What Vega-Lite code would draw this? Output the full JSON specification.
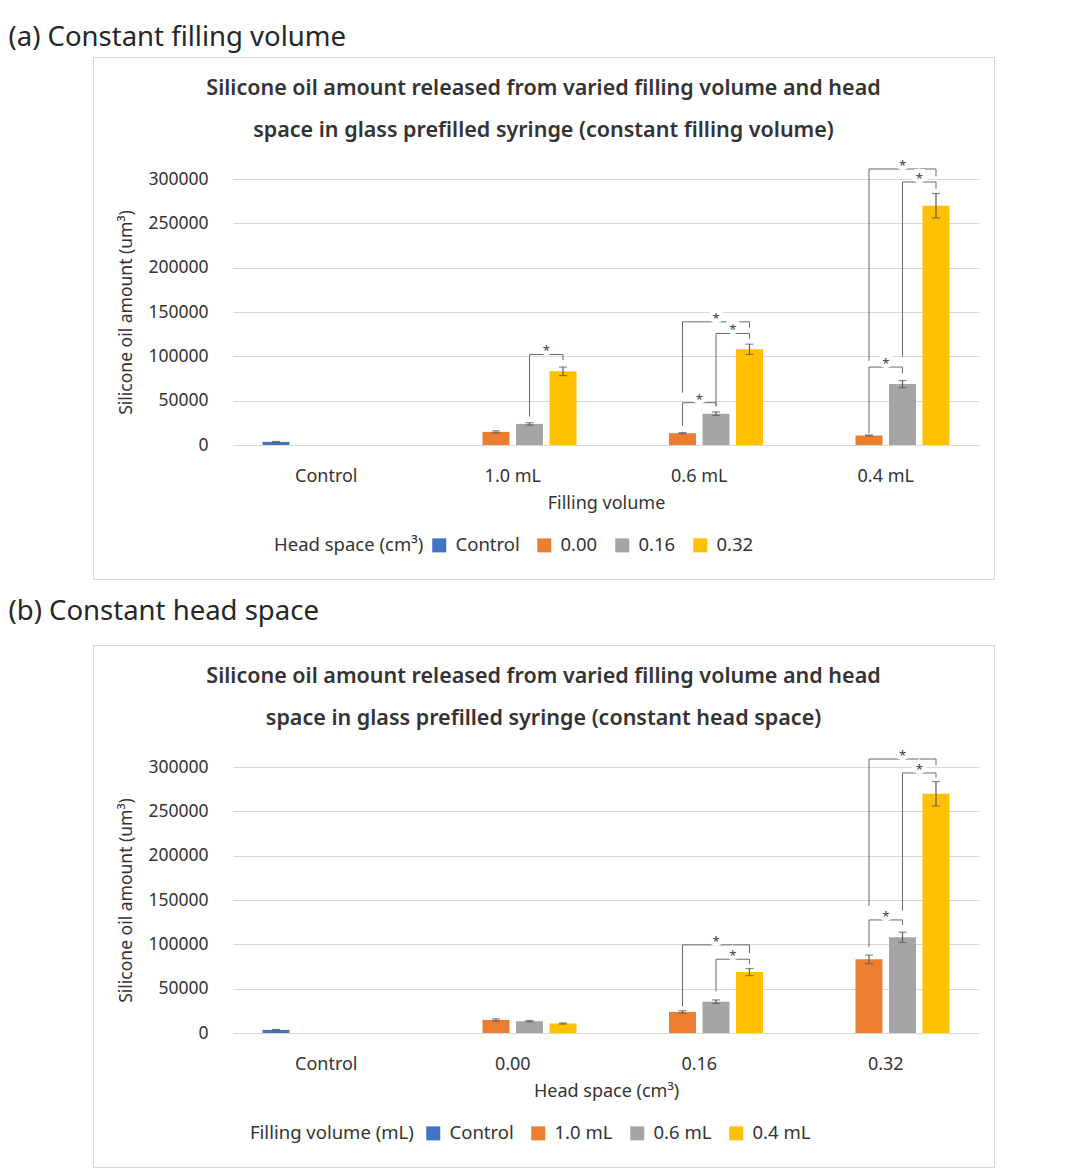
{
  "$schema": "https://vega.github.io/schema/vega-lite/v6.json",
  "padding": {"left": 8, "top": 24, "right": 0, "bottom": 0},
  "spacing": 18,
  "resolve": {"scale": {"color": "independent", "xOffset": "independent", "x": "independent", "y": "independent"}, "legend": {"color": "independent"}},
  "config": {
    "font": "Noto Sans",
    "view": {"stroke": "#D9D9D9", "strokeWidth": 1, "fill": "white"}
  },
  "datasets": {
    "bars": [
      {"fv": "Control", "hs": "Control", "v": 3500, "lo": 3000, "hi": 4000},
      {"fv": "1.0 mL", "hs": "0.00", "v": 14800, "lo": 13600, "hi": 16000},
      {"fv": "0.6 mL", "hs": "0.00", "v": 13300, "lo": 12600, "hi": 14000},
      {"fv": "0.4 mL", "hs": "0.00", "v": 10700, "lo": 10100, "hi": 11300},
      {"fv": "1.0 mL", "hs": "0.16", "v": 23800, "lo": 22400, "hi": 25200},
      {"fv": "0.6 mL", "hs": "0.16", "v": 35300, "lo": 33300, "hi": 37300},
      {"fv": "0.4 mL", "hs": "0.16", "v": 68700, "lo": 64700, "hi": 72700},
      {"fv": "1.0 mL", "hs": "0.32", "v": 83100, "lo": 78300, "hi": 87900},
      {"fv": "0.6 mL", "hs": "0.32", "v": 107900, "lo": 102100, "hi": 113700},
      {"fv": "0.4 mL", "hs": "0.32", "v": 269800, "lo": 256000, "hi": 283600}
    ],
    "brk": [
      {"p": "a", "id": "a1", "fv": "1.0 mL", "hs": "0.16", "y": 32300, "o": 0},
      {"p": "a", "id": "a1", "fv": "1.0 mL", "hs": "0.16", "y": 102100, "o": 1},
      {"p": "a", "id": "a1", "fv": "1.0 mL", "hs": "0.32", "y": 102100, "o": 2},
      {"p": "a", "id": "a1", "fv": "1.0 mL", "hs": "0.32", "y": 95800, "o": 3},
      {"p": "a", "id": "a2", "fv": "0.6 mL", "hs": "0.00", "y": 21800, "o": 0},
      {"p": "a", "id": "a2", "fv": "0.6 mL", "hs": "0.00", "y": 47700, "o": 1},
      {"p": "a", "id": "a2", "fv": "0.6 mL", "hs": "0.16", "y": 47700, "o": 2},
      {"p": "a", "id": "a2", "fv": "0.6 mL", "hs": "0.16", "y": 43900, "o": 3},
      {"p": "a", "id": "a3", "fv": "0.6 mL", "hs": "0.16", "y": 43600, "o": 0},
      {"p": "a", "id": "a3", "fv": "0.6 mL", "hs": "0.16", "y": 125800, "o": 1},
      {"p": "a", "id": "a3", "fv": "0.6 mL", "hs": "0.32", "y": 125800, "o": 2},
      {"p": "a", "id": "a3", "fv": "0.6 mL", "hs": "0.32", "y": 119800, "o": 3},
      {"p": "a", "id": "a4", "fv": "0.6 mL", "hs": "0.00", "y": 59000, "o": 0},
      {"p": "a", "id": "a4", "fv": "0.6 mL", "hs": "0.00", "y": 138900, "o": 1},
      {"p": "a", "id": "a4", "fv": "0.6 mL", "hs": "0.32", "y": 138900, "o": 2},
      {"p": "a", "id": "a4", "fv": "0.6 mL", "hs": "0.32", "y": 132200, "o": 3},
      {"p": "a", "id": "a5", "fv": "0.4 mL", "hs": "0.00", "y": 13100, "o": 0},
      {"p": "a", "id": "a5", "fv": "0.4 mL", "hs": "0.00", "y": 87900, "o": 1},
      {"p": "a", "id": "a5", "fv": "0.4 mL", "hs": "0.16", "y": 87900, "o": 2},
      {"p": "a", "id": "a5", "fv": "0.4 mL", "hs": "0.16", "y": 80700, "o": 3},
      {"p": "a", "id": "a6", "fv": "0.4 mL", "hs": "0.16", "y": 99500, "o": 0},
      {"p": "a", "id": "a6", "fv": "0.4 mL", "hs": "0.16", "y": 296600, "o": 1},
      {"p": "a", "id": "a6", "fv": "0.4 mL", "hs": "0.32", "y": 296600, "o": 2},
      {"p": "a", "id": "a6", "fv": "0.4 mL", "hs": "0.32", "y": 289100, "o": 3},
      {"p": "a", "id": "a7", "fv": "0.4 mL", "hs": "0.00", "y": 95000, "o": 0},
      {"p": "a", "id": "a7", "fv": "0.4 mL", "hs": "0.00", "y": 311300, "o": 1},
      {"p": "a", "id": "a7", "fv": "0.4 mL", "hs": "0.32", "y": 311300, "o": 2},
      {"p": "a", "id": "a7", "fv": "0.4 mL", "hs": "0.32", "y": 303000, "o": 3},
      {"p": "b", "id": "b1", "hs": "0.16", "fv": "1.0 mL", "y": 30000, "o": 0},
      {"p": "b", "id": "b1", "hs": "0.16", "fv": "1.0 mL", "y": 99400, "o": 1},
      {"p": "b", "id": "b1", "hs": "0.16", "fv": "0.4 mL", "y": 99400, "o": 2},
      {"p": "b", "id": "b1", "hs": "0.16", "fv": "0.4 mL", "y": 90000, "o": 3},
      {"p": "b", "id": "b2", "hs": "0.16", "fv": "0.6 mL", "y": 46900, "o": 0},
      {"p": "b", "id": "b2", "hs": "0.16", "fv": "0.6 mL", "y": 83200, "o": 1},
      {"p": "b", "id": "b2", "hs": "0.16", "fv": "0.4 mL", "y": 83200, "o": 2},
      {"p": "b", "id": "b2", "hs": "0.16", "fv": "0.4 mL", "y": 78000, "o": 3},
      {"p": "b", "id": "b3", "hs": "0.32", "fv": "1.0 mL", "y": 96800, "o": 0},
      {"p": "b", "id": "b3", "hs": "0.32", "fv": "1.0 mL", "y": 127500, "o": 1},
      {"p": "b", "id": "b3", "hs": "0.32", "fv": "0.6 mL", "y": 127500, "o": 2},
      {"p": "b", "id": "b3", "hs": "0.32", "fv": "0.6 mL", "y": 121900, "o": 3},
      {"p": "b", "id": "b4", "hs": "0.32", "fv": "0.6 mL", "y": 138000, "o": 0},
      {"p": "b", "id": "b4", "hs": "0.32", "fv": "0.6 mL", "y": 293300, "o": 1},
      {"p": "b", "id": "b4", "hs": "0.32", "fv": "0.4 mL", "y": 293300, "o": 2},
      {"p": "b", "id": "b4", "hs": "0.32", "fv": "0.4 mL", "y": 288000, "o": 3},
      {"p": "b", "id": "b5", "hs": "0.32", "fv": "1.0 mL", "y": 143200, "o": 0},
      {"p": "b", "id": "b5", "hs": "0.32", "fv": "1.0 mL", "y": 309000, "o": 1},
      {"p": "b", "id": "b5", "hs": "0.32", "fv": "0.4 mL", "y": 309000, "o": 2},
      {"p": "b", "id": "b5", "hs": "0.32", "fv": "0.4 mL", "y": 301900, "o": 3}
    ],
    "stars": [
      {"p": "a", "k": "adj", "fv": "1.0 mL", "hs": "0.16", "y": 102100},
      {"p": "a", "k": "adj", "fv": "0.6 mL", "hs": "0.00", "y": 47700},
      {"p": "a", "k": "adj", "fv": "0.6 mL", "hs": "0.16", "y": 125800},
      {"p": "a", "k": "span", "fv": "0.6 mL", "hs": "0.16", "y": 138900},
      {"p": "a", "k": "adj", "fv": "0.4 mL", "hs": "0.00", "y": 87900},
      {"p": "a", "k": "adj", "fv": "0.4 mL", "hs": "0.16", "y": 296600},
      {"p": "a", "k": "span", "fv": "0.4 mL", "hs": "0.16", "y": 311300},
      {"p": "b", "k": "span", "hs": "0.16", "fv": "0.6 mL", "y": 99400},
      {"p": "b", "k": "adj", "hs": "0.16", "fv": "0.6 mL", "y": 83200},
      {"p": "b", "k": "adj", "hs": "0.32", "fv": "1.0 mL", "y": 127500},
      {"p": "b", "k": "adj", "hs": "0.32", "fv": "0.6 mL", "y": 293300},
      {"p": "b", "k": "span", "hs": "0.32", "fv": "0.6 mL", "y": 309000}
    ]
  },
  "vconcat": [
    {
      "title": {"text": "(a) Constant filling volume", "anchor": "start", "dx": -84, "offset": 5, "fontSize": 27.5, "fontWeight": "normal", "color": "#262626"},
      "vconcat": [
        {
          "width": 901,
          "height": 522,
          "title": {"text": ["Silicone oil amount released from varied filling volume and head", "space in glass prefilled syringe (constant filling volume)"], "offset": -84, "fontSize": 21.5, "fontWeight": 600, "lineHeight": 42, "anchor": "middle", "color": "#333333"},
          "layer": [
            {
              "data": {"name": "bars"},
              "mark": {"type": "bar"},
              "encoding": {
                "x": {"field": "fv", "type": "nominal", "title": "Filling volume", "sort": null,
                  "scale": {"domain": ["Control", "1.0 mL", "0.6 mL", "0.4 mL"], "range": [140, 886], "paddingInner": 0.2815, "paddingOuter": 0.1408},
                  "axis": {"orient": "bottom", "offset": -134, "domain": true, "domainColor": "#D9D9D9", "ticks": false, "tickSize": 0, "labelPadding": 22, "labelFontSize": 18, "labelAngle": 0, "labelColor": "#333333", "titlePadding": 9, "titleFontSize": 18, "titleFontWeight": "normal", "titleColor": "#333333", "grid": false}},
                "xOffset": {"field": "hs", "type": "nominal", "sort": null, "scale": {"domain": ["Control", "0.00", "0.16", "0.32"], "paddingInner": 0.194, "paddingOuter": 0.097}},
                "y": {"field": "v", "type": "quantitative", "title": "Silicone oil amount (um³)",
                  "scale": {"domain": [0, 300000], "range": [388, 122], "nice": false},
                  "axis": {"values": [0, 50000, 100000, 150000, 200000, 250000, 300000], "format": "d", "offset": -140, "domain": false, "ticks": false, "tickSize": 0, "labelPadding": 25, "labelFontSize": 17.5, "labelColor": "#333333", "titleFontSize": 17.5, "titleFontWeight": "normal", "titleColor": "#333333", "titlePadding": 12, "grid": true, "gridColor": "#D9D9D9", "gridWidth": 1}},
                "color": {"field": "hs", "type": "nominal", "title": "Head space (cm³)",
                  "scale": {"domain": ["Control", "0.00", "0.16", "0.32"], "range": ["#4472C4", "#ED7D31", "#A5A5A5", "#FFC000"]},
                  "legend": {"orient": "none", "legendX": 181, "legendY": 479, "direction": "horizontal", "titleOrient": "left", "symbolType": "square", "symbolSize": 196, "symbolStrokeWidth": 0, "labelFontSize": 18.5, "labelColor": "#333333", "titleFontSize": 18.5, "titleFontWeight": "normal", "titleColor": "#333333", "labelOffset": 7, "columnPadding": 15, "titlePadding": 6}}
              }
            },
            {
              "data": {"name": "bars"},
              "mark": {"type": "rule", "color": "#595959", "strokeWidth": 1.2},
              "encoding": {"x": {"field": "fv", "type": "nominal"}, "xOffset": {"field": "hs", "type": "nominal"}, "y": {"field": "lo", "type": "quantitative"}, "y2": {"field": "hi"}}
            },
            {
              "data": {"name": "bars"},
              "mark": {"type": "tick", "color": "#595959", "size": 8, "thickness": 1.2, "orient": "horizontal"},
              "encoding": {"x": {"field": "fv", "type": "nominal"}, "xOffset": {"field": "hs", "type": "nominal"}, "y": {"field": "lo", "type": "quantitative"}}
            },
            {
              "data": {"name": "bars"},
              "mark": {"type": "tick", "color": "#595959", "size": 8, "thickness": 1.2, "orient": "horizontal"},
              "encoding": {"x": {"field": "fv", "type": "nominal"}, "xOffset": {"field": "hs", "type": "nominal"}, "y": {"field": "hi", "type": "quantitative"}}
            },
            {
              "data": {"name": "brk"},
              "transform": [{"filter": "datum.p == 'a'"}],
              "mark": {"type": "line", "color": "#6a6a6a", "strokeWidth": 1},
              "encoding": {"x": {"field": "fv", "type": "nominal"}, "xOffset": {"field": "hs", "type": "nominal"}, "y": {"field": "y", "type": "quantitative"}, "detail": {"field": "id"}, "order": {"field": "o", "type": "quantitative"}}
            },
            {
              "data": {"name": "stars"},
              "transform": [{"filter": "datum.p == 'a' && datum.k == 'adj'"}],
              "mark": {"type": "text", "text": "*", "fontSize": 13, "dx": 16.75, "dy": -3, "fill": "white", "stroke": "white", "strokeWidth": 8},
              "encoding": {"x": {"field": "fv", "type": "nominal"}, "xOffset": {"field": "hs", "type": "nominal"}, "y": {"field": "y", "type": "quantitative"}}
            },
            {
              "data": {"name": "stars"},
              "transform": [{"filter": "datum.p == 'a' && datum.k == 'span'"}],
              "mark": {"type": "text", "text": "*", "fontSize": 13, "dx": 0, "dy": -3, "fill": "white", "stroke": "white", "strokeWidth": 8},
              "encoding": {"x": {"field": "fv", "type": "nominal"}, "xOffset": {"field": "hs", "type": "nominal"}, "y": {"field": "y", "type": "quantitative"}}
            },
            {
              "data": {"name": "stars"},
              "transform": [{"filter": "datum.p == 'a' && datum.k == 'adj'"}],
              "mark": {"type": "text", "text": "*", "fontSize": 13, "dx": 16.75, "dy": -3, "color": "#404040"},
              "encoding": {"x": {"field": "fv", "type": "nominal"}, "xOffset": {"field": "hs", "type": "nominal"}, "y": {"field": "y", "type": "quantitative"}}
            },
            {
              "data": {"name": "stars"},
              "transform": [{"filter": "datum.p == 'a' && datum.k == 'span'"}],
              "mark": {"type": "text", "text": "*", "fontSize": 13, "dx": 0, "dy": -3, "color": "#404040"},
              "encoding": {"x": {"field": "fv", "type": "nominal"}, "xOffset": {"field": "hs", "type": "nominal"}, "y": {"field": "y", "type": "quantitative"}}
            }
          ]
        }
      ]
    },
    {
      "title": {"text": "(b) Constant head space", "anchor": "start", "dx": -84, "offset": 19, "fontSize": 27.5, "fontWeight": "normal", "color": "#262626"},
      "vconcat": [
        {
          "width": 901,
          "height": 522,
          "title": {"text": ["Silicone oil amount released from varied filling volume and head", "space in glass prefilled syringe (constant head space)"], "offset": -84, "fontSize": 21.5, "fontWeight": 600, "lineHeight": 42, "anchor": "middle", "color": "#333333"},
          "layer": [
            {
              "data": {"name": "bars"},
              "mark": {"type": "bar"},
              "encoding": {
                "x": {"field": "hs", "type": "nominal", "title": "Head space (cm³)", "sort": null,
                  "scale": {"domain": ["Control", "0.00", "0.16", "0.32"], "range": [140, 886], "paddingInner": 0.2815, "paddingOuter": 0.1408},
                  "axis": {"orient": "bottom", "offset": -134, "domain": true, "domainColor": "#D9D9D9", "ticks": false, "tickSize": 0, "labelPadding": 22, "labelFontSize": 18, "labelAngle": 0, "labelColor": "#333333", "titlePadding": 9, "titleFontSize": 18, "titleFontWeight": "normal", "titleColor": "#333333", "grid": false}},
                "xOffset": {"field": "fv", "type": "nominal", "sort": null, "scale": {"domain": ["Control", "1.0 mL", "0.6 mL", "0.4 mL"], "paddingInner": 0.194, "paddingOuter": 0.097}},
                "y": {"field": "v", "type": "quantitative", "title": "Silicone oil amount (um³)",
                  "scale": {"domain": [0, 300000], "range": [388, 122], "nice": false},
                  "axis": {"values": [0, 50000, 100000, 150000, 200000, 250000, 300000], "format": "d", "offset": -140, "domain": false, "ticks": false, "tickSize": 0, "labelPadding": 25, "labelFontSize": 17.5, "labelColor": "#333333", "titleFontSize": 17.5, "titleFontWeight": "normal", "titleColor": "#333333", "titlePadding": 12, "grid": true, "gridColor": "#D9D9D9", "gridWidth": 1}},
                "color": {"field": "fv", "type": "nominal", "title": "Filling volume (mL)",
                  "scale": {"domain": ["Control", "1.0 mL", "0.6 mL", "0.4 mL"], "range": ["#4472C4", "#ED7D31", "#A5A5A5", "#FFC000"]},
                  "legend": {"orient": "none", "legendX": 157, "legendY": 479, "direction": "horizontal", "titleOrient": "left", "symbolType": "square", "symbolSize": 196, "symbolStrokeWidth": 0, "labelFontSize": 18.5, "labelColor": "#333333", "titleFontSize": 18.5, "titleFontWeight": "normal", "titleColor": "#333333", "labelOffset": 7, "columnPadding": 15, "titlePadding": 10}}
              }
            },
            {
              "data": {"name": "bars"},
              "mark": {"type": "rule", "color": "#595959", "strokeWidth": 1.2},
              "encoding": {"x": {"field": "hs", "type": "nominal"}, "xOffset": {"field": "fv", "type": "nominal"}, "y": {"field": "lo", "type": "quantitative"}, "y2": {"field": "hi"}}
            },
            {
              "data": {"name": "bars"},
              "mark": {"type": "tick", "color": "#595959", "size": 8, "thickness": 1.2, "orient": "horizontal"},
              "encoding": {"x": {"field": "hs", "type": "nominal"}, "xOffset": {"field": "fv", "type": "nominal"}, "y": {"field": "lo", "type": "quantitative"}}
            },
            {
              "data": {"name": "bars"},
              "mark": {"type": "tick", "color": "#595959", "size": 8, "thickness": 1.2, "orient": "horizontal"},
              "encoding": {"x": {"field": "hs", "type": "nominal"}, "xOffset": {"field": "fv", "type": "nominal"}, "y": {"field": "hi", "type": "quantitative"}}
            },
            {
              "data": {"name": "brk"},
              "transform": [{"filter": "datum.p == 'b'"}],
              "mark": {"type": "line", "color": "#6a6a6a", "strokeWidth": 1},
              "encoding": {"x": {"field": "hs", "type": "nominal"}, "xOffset": {"field": "fv", "type": "nominal"}, "y": {"field": "y", "type": "quantitative"}, "detail": {"field": "id"}, "order": {"field": "o", "type": "quantitative"}}
            },
            {
              "data": {"name": "stars"},
              "transform": [{"filter": "datum.p == 'b' && datum.k == 'adj'"}],
              "mark": {"type": "text", "text": "*", "fontSize": 13, "dx": 16.75, "dy": -3, "fill": "white", "stroke": "white", "strokeWidth": 8},
              "encoding": {"x": {"field": "hs", "type": "nominal"}, "xOffset": {"field": "fv", "type": "nominal"}, "y": {"field": "y", "type": "quantitative"}}
            },
            {
              "data": {"name": "stars"},
              "transform": [{"filter": "datum.p == 'b' && datum.k == 'span'"}],
              "mark": {"type": "text", "text": "*", "fontSize": 13, "dx": 0, "dy": -3, "fill": "white", "stroke": "white", "strokeWidth": 8},
              "encoding": {"x": {"field": "hs", "type": "nominal"}, "xOffset": {"field": "fv", "type": "nominal"}, "y": {"field": "y", "type": "quantitative"}}
            },
            {
              "data": {"name": "stars"},
              "transform": [{"filter": "datum.p == 'b' && datum.k == 'adj'"}],
              "mark": {"type": "text", "text": "*", "fontSize": 13, "dx": 16.75, "dy": -3, "color": "#404040"},
              "encoding": {"x": {"field": "hs", "type": "nominal"}, "xOffset": {"field": "fv", "type": "nominal"}, "y": {"field": "y", "type": "quantitative"}}
            },
            {
              "data": {"name": "stars"},
              "transform": [{"filter": "datum.p == 'b' && datum.k == 'span'"}],
              "mark": {"type": "text", "text": "*", "fontSize": 13, "dx": 0, "dy": -3, "color": "#404040"},
              "encoding": {"x": {"field": "hs", "type": "nominal"}, "xOffset": {"field": "fv", "type": "nominal"}, "y": {"field": "y", "type": "quantitative"}}
            }
          ]
        }
      ]
    }
  ]
}
